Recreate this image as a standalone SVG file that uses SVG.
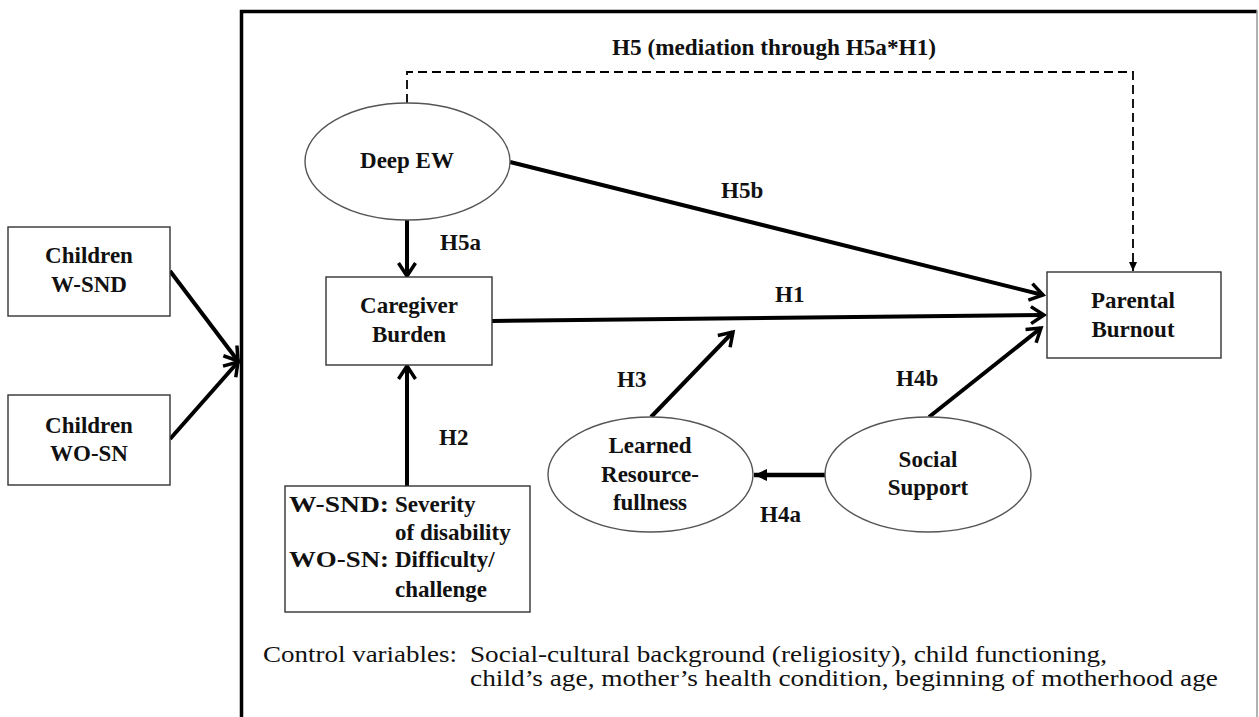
<svg xmlns="http://www.w3.org/2000/svg" width="1259" height="717" viewBox="0 0 1259 717">
<style>
.box{fill:#fff;stroke:#333;stroke-width:1.4}
.ell{fill:#fff;stroke:#555;stroke-width:1.4}
.lbl{font-family:'Liberation Serif','Times New Roman',serif;font-weight:bold;font-size:23px;fill:#111}
.mid{text-anchor:middle}
.reg{font-family:'Liberation Serif','Times New Roman',serif;font-size:23px;fill:#111}
.arr{stroke:#000;stroke-width:4;fill:none;marker-end:url(#open)}
</style>
<defs>
<marker id="open" viewBox="0 0 22 22" refX="18" refY="11" markerWidth="22" markerHeight="22" markerUnits="userSpaceOnUse" orient="auto">
<path d="M5,2.5 L18,11 L5,19.5" fill="none" stroke="#000" stroke-width="3.5"/>
</marker>
<marker id="solid" viewBox="0 0 14 14" refX="13" refY="7" markerWidth="14" markerHeight="14" markerUnits="userSpaceOnUse" orient="auto">
<path d="M0,1 L13,7 L0,13 Z" fill="#000"/>
</marker>
<marker id="small" viewBox="0 0 10 10" refX="9" refY="5" markerWidth="10" markerHeight="10" markerUnits="userSpaceOnUse" orient="auto">
<path d="M0,1 L9,5 L0,9 Z" fill="#000"/>
</marker>
</defs>

<g id="frame">
<path d="M241.5,717 V11.5 H1257" fill="none" stroke="#000" stroke-width="3.5"/>
<line x1="1257" y1="10" x2="1257" y2="717" stroke="#999" stroke-width="1.5"/>
</g>

<g id="connectors">
<line class="arr" x1="170" y1="271" x2="238" y2="361"/>
<line class="arr" x1="170" y1="439" x2="238" y2="362"/>
<line class="arr" x1="407" y1="220" x2="407" y2="276"/>
<line class="arr" x1="407" y1="486" x2="407" y2="366"/>
<line class="arr" x1="492" y1="321" x2="1044" y2="315" stroke-width="4.5"/>
<line class="arr" x1="510" y1="162" x2="1043" y2="295" stroke-width="4.5"/>
<line class="arr" x1="651" y1="417" x2="733" y2="332"/>
<line class="arr" x1="929" y1="417" x2="1041" y2="328"/>
<line x1="825" y1="475" x2="754" y2="475" stroke="#000" stroke-width="4.5" marker-end="url(#solid)"/>
<path d="M407,103 V72 H1133 V271" fill="none" stroke="#000" stroke-width="1.8" stroke-dasharray="9,5" marker-end="url(#small)"/>
</g>

<g id="labels">
<text class="lbl" x="612" y="55" textLength="324" lengthAdjust="spacingAndGlyphs">H5 (mediation through H5a*H1)</text>
<text class="lbl" x="721" y="198">H5b</text>
<text class="lbl" x="440" y="250">H5a</text>
<text class="lbl" x="775" y="302">H1</text>
<text class="lbl" x="439" y="445">H2</text>
<text class="lbl" x="617" y="387">H3</text>
<text class="lbl" x="896" y="386">H4b</text>
<text class="lbl" x="760" y="522">H4a</text>
</g>

<g id="children-wsnd">
<rect class="box" x="8" y="227" width="162" height="89"/>
<text class="lbl mid" x="89" y="263">Children</text>
<text class="lbl mid" x="89" y="292">W-SND</text>
</g>

<g id="children-wosn">
<rect class="box" x="8" y="395" width="162" height="90"/>
<text class="lbl mid" x="89" y="433">Children</text>
<text class="lbl mid" x="89" y="461">WO-SN</text>
</g>

<g id="deep-ew">
<ellipse class="ell" cx="407.5" cy="161.5" rx="102.5" ry="58.5"/>
<text class="lbl mid" x="407" y="168">Deep EW</text>
</g>

<g id="caregiver-burden">
<rect class="box" x="326" y="277" width="166" height="88"/>
<text class="lbl mid" x="409" y="313">Caregiver</text>
<text class="lbl mid" x="409" y="342">Burden</text>
</g>

<g id="parental-burnout">
<rect class="box" x="1047" y="272" width="174" height="86"/>
<text class="lbl mid" x="1133" y="308">Parental</text>
<text class="lbl mid" x="1133" y="337">Burnout</text>
</g>

<g id="severity">
<rect class="box" x="285" y="486" width="245" height="126"/>
<text class="lbl" x="289" y="512" textLength="100" lengthAdjust="spacingAndGlyphs">W-SND:</text>
<text class="lbl" x="395" y="512">Severity</text>
<text class="lbl" x="395" y="540">of disability</text>
<text class="lbl" x="289" y="567" textLength="100" lengthAdjust="spacingAndGlyphs">WO-SN:</text>
<text class="lbl" x="395" y="567">Difficulty/</text>
<text class="lbl" x="395" y="597">challenge</text>
</g>

<g id="learned-resourcefulness">
<ellipse class="ell" cx="650.5" cy="474.5" rx="102.5" ry="57.5"/>
<text class="lbl mid" x="650" y="453">Learned</text>
<text class="lbl mid" x="650" y="482">Resource-</text>
<text class="lbl mid" x="650" y="510">fullness</text>
</g>

<g id="social-support">
<ellipse class="ell" cx="928" cy="474.5" rx="103" ry="57.5"/>
<text class="lbl mid" x="928" y="467">Social</text>
<text class="lbl mid" x="928" y="495">Support</text>
</g>

<g id="controls">
<text class="reg" x="263" y="662" textLength="194" lengthAdjust="spacingAndGlyphs">Control variables:</text>
<text class="reg" x="470" y="662" textLength="637" lengthAdjust="spacingAndGlyphs">Social-cultural background (religiosity), child functioning,</text>
<text class="reg" x="470" y="686" textLength="748" lengthAdjust="spacingAndGlyphs">child’s age, mother’s health condition, beginning of motherhood age</text>
</g>
</svg>
